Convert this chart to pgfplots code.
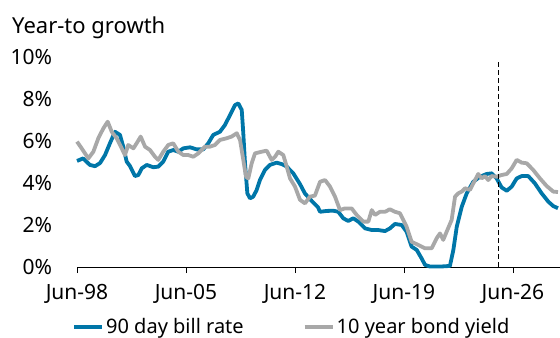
\documentclass[border=0pt]{standalone}
\usepackage{pgfplots}
\pgfplotsset{compat=1.18}
\usepackage{fontspec}
\setmainfont{Noto Sans}
\definecolor{billblue}{RGB}{0,118,168}
\definecolor{bondgray}{RGB}{168,168,168}
\begin{document}
\fontsize{20bp}{24bp}\selectfont
\begin{tikzpicture}
\useasboundingbox (0,0) rectangle (560bp,338bp);
\node[anchor=base west, inner sep=0pt] at (12bp,304bp) {\fontsize{22bp}{26bp}\selectfont Year-to growth};
\begin{axis}[
  at={(77bp,71bp)}, anchor=south west,
  scale only axis, width=483bp, height=210bp,
  xmin=1998.5, xmax=2029.52, ymin=0, ymax=10,
  axis x line=bottom, axis y line=left,
  x axis line style={black, line width=0.8bp, -},
  y axis line style={draw=none},
  xtick={1998.5,2005.5,2012.5,2019.5,2026.5},
  xticklabels={Jun-98,Jun-05,Jun-12,Jun-19,Jun-26},
  ytick={0,2,4,6,8,10},
  yticklabels={0\%,2\%,4\%,6\%,8\%,10\%},
  ytick style={draw=none},
  tick style={black, line width=0.8bp},
  major tick length=6bp,
  tick align=outside,
  xtick pos=bottom,
  yticklabel style={anchor=east, xshift=-12bp},
  xticklabel style={yshift=-4bp},
  ticklabel style={font=\fontsize{21bp}{25bp}\selectfont},
  clip=false,
  legend style={at={(-0.0104,-0.2857)}, anchor=west, draw=none, fill=none,
    inner sep=0pt, legend columns=2,
    font=\fontsize{20bp}{24bp}\selectfont,
    /tikz/every even column/.append style={column sep=57bp}},
  legend cell align=left,
  legend image code/.code={\draw[#1, line width=4bp] (0bp,0bp) -- (28bp,0bp);},
]
\addplot[billblue, line width=3.8bp, line join=round] coordinates {
(1998.5,5.05)(1998.89,5.17)(1999.33,4.86)(1999.66,4.8)(1999.98,4.95)
(2000.30,5.33)(2000.62,5.9)(2000.94,6.44)(2001.26,6.29)(2001.47,5.73)
(2001.69,5.02)(2001.90,4.81)(2002.22,4.33)(2002.44,4.38)(2002.66,4.7)
(2002.98,4.86)(2003.40,4.75)(2003.72,4.78)(2004.04,5.02)(2004.36,5.49)
(2004.68,5.57)(2005.01,5.49)(2005.33,5.65)(2005.76,5.7)(2006.19,5.6)
(2006.61,5.6)(2006.93,5.89)(2007.25,6.29)(2007.68,6.44)(2008.00,6.76)
(2008.33,7.24)(2008.65,7.71)(2008.86,7.79)(2009.08,7.48)(2009.18,6.37)
(2009.29,4.94)(2009.44,3.51)(2009.61,3.27)(2009.82,3.35)(2010.04,3.67)
(2010.25,4.14)(2010.57,4.62)(2010.89,4.86)(2011.32,4.97)(2011.65,4.9)
(2011.97,4.78)(2012.39,4.46)(2012.82,3.95)(2013.14,3.5)(2013.57,3.15)
(2013.97,2.85)(2014.11,2.63)(2014.54,2.67)(2014.96,2.68)(2015.28,2.63)
(2015.60,2.32)(2015.92,2.19)(2016.24,2.32)(2016.57,2.16)(2017.00,1.84)
(2017.43,1.76)(2017.85,1.76)(2018.28,1.71)(2018.60,1.84)(2018.92,2.05)
(2019.35,2.0)(2019.67,1.68)(2019.99,0.97)(2020.32,0.81)(2020.64,0.4)
(2020.85,0.1)(2021.17,0.02)(2021.81,0.02)(2022.45,0.05)(2022.67,0.81)
(2022.89,1.92)(2023.21,2.87)(2023.53,3.51)(2023.95,4.06)(2024.38,4.3)
(2024.81,4.43)(2025.13,4.46)(2025.45,4.22)(2025.77,3.79)(2026.10,3.63)
(2026.42,3.83)(2026.74,4.22)(2027.06,4.33)(2027.48,4.33)(2027.91,3.98)
(2028.34,3.51)(2028.77,3.11)(2029.09,2.9)(2029.39,2.8)
};
\addlegendentry{90 day bill rate}
\addplot[bondgray, line width=3.8bp, line join=round] coordinates {
(1998.5,5.97)(1998.80,5.65)(1999.23,5.17)(1999.55,5.49)(1999.87,6.13)
(2000.19,6.6)(2000.47,6.92)(2000.73,6.44)(2001.05,6.13)(2001.37,5.65)
(2001.58,5.33)(2001.79,5.81)(2002.12,5.65)(2002.33,5.89)(2002.59,6.21)
(2002.87,5.73)(2003.19,5.57)(2003.51,5.25)(2003.72,5.1)(2004.04,5.49)
(2004.36,5.81)(2004.68,5.89)(2005.01,5.49)(2005.33,5.33)(2005.65,5.33)
(2005.97,5.25)(2006.29,5.41)(2006.72,5.73)(2007.04,5.73)(2007.36,5.81)
(2007.68,6.05)(2008.11,6.13)(2008.43,6.21)(2008.76,6.37)(2008.97,6.05)
(2009.18,5.1)(2009.35,4.3)(2009.50,4.22)(2009.72,4.94)(2009.93,5.41)
(2010.36,5.49)(2010.68,5.54)(2011.00,5.1)(2011.22,5.25)(2011.43,5.49)
(2011.75,5.33)(2011.97,4.78)(2012.18,4.22)(2012.50,3.83)(2012.82,3.2)
(2013.14,3.03)(2013.46,3.35)(2013.78,3.4)(2014.11,4.06)(2014.43,4.14)
(2014.75,3.83)(2015.07,3.35)(2015.39,2.71)(2015.71,2.79)(2016.14,2.79)
(2016.46,2.48)(2016.89,2.16)(2017.21,2.16)(2017.43,2.71)(2017.64,2.48)
(2017.96,2.63)(2018.28,2.63)(2018.60,2.75)(2018.92,2.63)(2019.24,2.56)
(2019.67,1.92)(2019.99,1.2)(2020.42,1.05)(2020.85,0.89)(2021.28,0.89)
(2021.60,1.37)(2021.81,1.6)(2022.02,1.29)(2022.24,1.68)(2022.56,2.24)
(2022.78,3.35)(2022.99,3.51)(2023.21,3.59)(2023.42,3.75)(2023.74,3.67)
(2023.95,3.98)(2024.27,4.43)(2024.49,4.22)(2024.70,4.33)(2024.91,4.14)
(2025.13,4.33)(2025.45,4.3)(2025.77,4.38)(2026.10,4.43)(2026.42,4.7)
(2026.74,5.1)(2027.06,4.97)(2027.38,4.94)(2027.80,4.62)(2028.23,4.22)
(2028.66,3.86)(2029.09,3.59)(2029.39,3.57)
};
\addlegendentry{10 year bond yield}
\addplot[black, line width=1bp, dash pattern=on 5bp off 3bp, forget plot] coordinates {(2025.54,0)(2025.54,9.85)};
\end{axis}
\end{tikzpicture}
\end{document}
